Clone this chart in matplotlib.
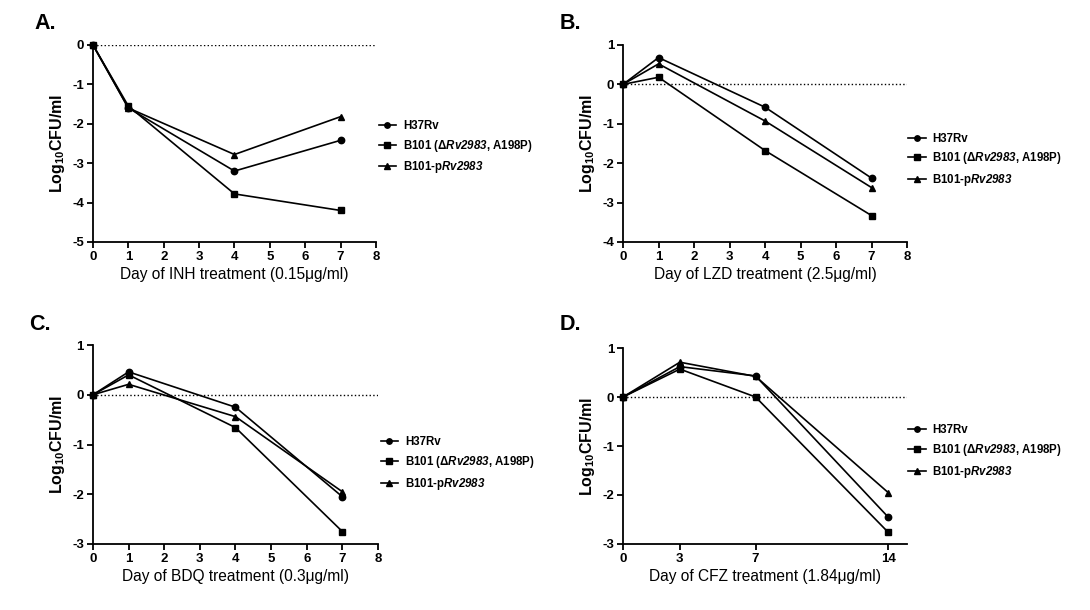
import matplotlib
matplotlib.use("Agg")
from matplotlib import pyplot as plt

plt.rcParams["font.family"] = ["Liberation Sans", "DejaVu Sans"]
plt.rcParams["mathtext.fontset"] = "custom"
plt.rcParams["mathtext.rm"] = "Liberation Sans:bold"
plt.rcParams["mathtext.bf"] = "Liberation Sans:bold"
plt.rcParams["mathtext.it"] = "Liberation Sans:italic:bold"
# 数字もイタリックにするため sf を太字イタリックに割り当てる
plt.rcParams["mathtext.sf"] = "Liberation Sans:italic:bold"
plt.rcParams["axes.unicode_minus"] = False

# 株名
strains = ["H37Rv", "B101 (Δ$\\mathsf{Rv2983}$, A198P)", "B101-p$\\mathsf{Rv2983}$"]
markers = ["o", "s", "^"]

# A: INH
days_a = [0, 1, 4, 7]
inh_h37rv = [0, -1.6, -3.2, -2.42]
inh_b101 = [0, -1.55, -3.78, -4.2]
inh_prv = [0, -1.6, -2.78, -1.82]

# B: LZD
days_b = [0, 1, 4, 7]
lzd_h37rv = [0, 0.68, -0.58, -2.38]
lzd_b101 = [0, 0.18, -1.68, -3.33]
lzd_prv = [0, 0.52, -0.93, -2.62]

# C: BDQ
days_c = [0, 1, 4, 7]
bdq_h37rv = [0, 0.46, -0.25, -2.05]
bdq_b101 = [0, 0.4, -0.66, -2.75]
bdq_prv = [0, 0.21, -0.44, -1.95]

# D: CFZ
days_d = [0, 3, 7, 14]
cfz_h37rv = [0, 0.62, 0.43, -2.45]
cfz_b101 = [0, 0.57, 0.0, -2.76]
cfz_prv = [0, 0.71, 0.42, -1.95]


def draw_panel(fig, rect, letter, letter_xy, days, series, xlabel,
               xlim, xticks, ylim, legend_xy):
    ax = fig.add_axes(rect)
    ax.axhline(0, color="black", linestyle=":", linewidth=1.0, zorder=1)
    lines = []
    for values, m in zip(series, markers):
        (ln,) = ax.plot(days, values, color="black", marker=m, markersize=4.6,
                        linewidth=1.2, clip_on=False, zorder=3)
        lines.append(ln)
    ax.set_xlim(*xlim)
    ax.set_ylim(*ylim)
    ax.set_xticks(xticks)
    ax.set_yticks(range(int(ylim[0]), int(ylim[1]) + 1))
    for s in ["top", "right"]:
        ax.spines[s].set_visible(False)
    for s in ["left", "bottom"]:
        ax.spines[s].set_linewidth(1.3)
    ax.tick_params(direction="out", length=4, width=1.3, labelsize=9.5, pad=2.5)
    for lab in ax.get_xticklabels() + ax.get_yticklabels():
        lab.set_fontweight("bold")
    ax.set_xlabel(xlabel, fontsize=11.2, labelpad=3)
    ax.set_ylabel("Log$_{10}$CFU/ml", fontsize=11.5, fontweight="bold",
                  labelpad=4)
    fig.text(letter_xy[0], letter_xy[1], letter, fontsize=15.5,
             fontweight="bold", va="center", ha="left")
    ax.legend(lines, strains, loc="center left",
              bbox_to_anchor=legend_xy, bbox_transform=fig.transFigure,
              frameon=False, borderpad=0, handlelength=1.5,
              handletextpad=0.6, labelspacing=0.5, markerscale=0.85,
              prop={"size": 8.3, "weight": "bold"})
    return ax


def main():
    fig = plt.figure(figsize=(10.9, 6.1), dpi=100)

    draw_panel(fig, [0.0853, 0.6033, 0.2596, 0.323], "A.", (0.032, 0.962),
               days_a, [inh_h37rv, inh_b101, inh_prv],
               "Day of INH treatment (0.15μg/ml)",
               (0, 8), range(0, 9), (-5, 0), (0.342, 0.758))
    draw_panel(fig, [0.5716, 0.6033, 0.2606, 0.323], "B.", (0.513, 0.962),
               days_b, [lzd_h37rv, lzd_b101, lzd_prv],
               "Day of LZD treatment (2.5μg/ml)",
               (0, 8), range(0, 9), (-4, 1), (0.828, 0.737))
    draw_panel(fig, [0.0853, 0.1082, 0.2615, 0.3262], "C.", (0.027, 0.468),
               days_c, [bdq_h37rv, bdq_b101, bdq_prv],
               "Day of BDQ treatment (0.3μg/ml)",
               (0, 8), range(0, 9), (-3, 1), (0.344, 0.239))
    draw_panel(fig, [0.5716, 0.1082, 0.2606, 0.3213], "D.", (0.513, 0.468),
               days_d, [cfz_h37rv, cfz_b101, cfz_prv],
               "Day of CFZ treatment (1.84μg/ml)",
               (0, 15), [0, 3, 7, 14], (-3, 1), (0.828, 0.259))

    fig.savefig("out.png", dpi=100)


if __name__ == "__main__":
    main()
